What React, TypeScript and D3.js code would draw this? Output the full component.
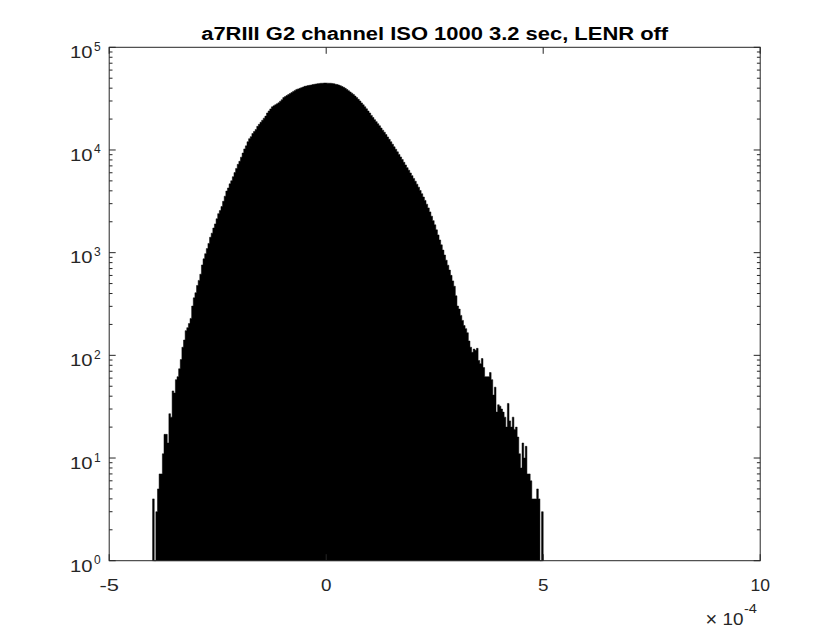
import React from "react";
import * as d3 from "d3";

// Histogram counts (bins of 0.0375e-4 starting at -4.0e-4)
const BIN_START = -4.0;
const BIN_WIDTH = 0.0375;
const counts = [
  4, 1, 3, 5, 7, 7, 11, 17, 17, 14,
  27, 25, 45, 43, 58, 62, 74, 91, 120, 141,
  174, 186, 204, 229, 302, 363, 407, 479, 537, 617,
  759, 871, 977, 1096, 1230, 1413, 1549, 1738, 1905, 2138,
  2399, 2570, 2818, 3162, 3548, 3981, 4266, 4677, 5012, 5495,
  6026, 6607, 7244, 7762, 8511, 9333, 10233, 10965, 12023, 12882,
  13490, 14454, 15136, 15849, 16982, 17783, 18621, 19498, 20417, 21380,
  22909, 23988, 25119, 26303, 26915, 27542, 28184, 28840, 29854, 30903,
  32359, 33113, 33884, 34674, 35481, 36308, 37154, 38019, 38905, 39355,
  39811, 40458, 41020, 41687, 41976, 42364, 42658, 42954, 43351, 43652,
  43954, 44259, 44463, 44668, 44668, 44875, 44875, 44770, 44668, 44668,
  44463, 44157, 43652, 43351, 42855, 42267, 41495, 40738, 39811, 38815,
  37757, 36728, 35727, 34674, 33497, 32359, 31117, 29992, 28708, 27542,
  26363, 25177, 23988, 22909, 21727, 20701, 19724, 18880, 18030, 17219,
  16368, 15596, 14894, 14125, 13397, 12706, 12023, 11376, 10740, 10162,
  9594, 9057, 8551, 8072, 7586, 7145, 6730, 6353, 5970, 5623,
  5284, 4966, 4645, 4345, 4036, 3750, 3483, 3228, 2965, 2729,
  2495, 2265, 2051, 1866, 1667, 1489, 1330, 1191, 1059, 948,
  845, 755, 676, 601, 531, 471, 380, 302, 282, 245,
  219, 195, 182, 166, 138, 120, 107, 115, 112, 117,
  89, 83, 93, 76, 62, 62, 62, 68, 58, 41,
  49, 28, 33, 32, 30, 28, 25, 20, 34, 23,
  20, 25, 19, 20, 16, 11, 8, 14, 10, 13,
  7, 7, 6, 4, 4, 4, 5, 4, 1, 3,
];

const xTicks = [-5, 0, 5, 10];
const yTickExps = [0, 1, 2, 3, 4, 5];
const minorMults = [2, 3, 4, 5, 6, 7, 8, 9];
const TITLE = "a7RIII G2 channel ISO 1000 3.2 sec, LENR off";

const W = 840;
const H = 630;
const L = 109.2;
const R = 760.2;
const T = 47.3;
const B = 560.7;
const AX = "#262626";
const FONT = "'Liberation Sans', Arial, Helvetica, sans-serif";

export default function App() {
  const x = d3.scaleLinear().domain([-5, 10]).range([L, R]);
  const y = d3.scaleLog().domain([1, 1e5]).range([B, T]);

  // single step-outline path for the histogram
  let histPath = `M${x(BIN_START)},${B}`;
  counts.forEach((c, i) => {
    const x0 = x(BIN_START + i * BIN_WIDTH);
    const x1 = x(BIN_START + (i + 1) * BIN_WIDTH);
    const yt = y(Math.max(c, 1));
    histPath += `L${x0},${yt}L${x1},${yt}`;
  });
  histPath += `L${x(BIN_START + counts.length * BIN_WIDTH)},${B}Z`;

  const minorVals: number[] = [];
  for (let e = 0; e < 5; e++) {
    for (const m of minorMults) minorVals.push(m * Math.pow(10, e));
  }

  let tickPath = "";
  yTickExps.forEach((e) => {
    const yy = y(Math.pow(10, e));
    tickPath += `M${L},${yy}H${L + 6.5}M${R},${yy}H${R - 6.5}`;
  });
  minorVals.forEach((v) => {
    const yy = y(v);
    tickPath += `M${L},${yy}H${L + 3.3}M${R},${yy}H${R - 3.3}`;
  });
  xTicks.forEach((t) => {
    const xx = x(t);
    tickPath += `M${xx},${B}V${B - 6.5}M${xx},${T}V${T + 6.5}`;
  });

  const xLabelWidth = (t: number) => {
    const s = String(t);
    if (s.length === 1) return 10.5;
    return 19.5;
  };

  return (
    <svg
      width={W}
      height={H}
      viewBox={`0 0 ${W} ${H}`}
      style={{ position: "absolute", left: 0, top: 0, background: "#fff" }}
      fontFamily={FONT}
    >
      <rect x={0} y={0} width={W} height={H} fill="#fff" />
      <path d={histPath} fill="#000" stroke="#000" strokeWidth={0.5} />
      <rect x={L} y={T} width={R - L} height={B - T} fill="none" stroke={AX} strokeWidth={1} />
      <path d={tickPath} stroke={AX} strokeWidth={1} fill="none" />
      {yTickExps.map((e) => {
        const yy = y(Math.pow(10, e));
        return (
          <g key={e} fill={AX}>
            <text
              x={70}
              y={yy + 10.8}
              fontSize={16.5}
              textLength={22.5}
              lengthAdjust="spacingAndGlyphs"
            >
              10
            </text>
            <text x={94} y={yy + 3.5} fontSize={12}>
              {e}
            </text>
          </g>
        );
      })}
      {xTicks.map((t) => (
        <text
          key={t}
          x={x(t) - xLabelWidth(t) / 2}
          y={590.5}
          fontSize={16.5}
          fill={AX}
          textLength={xLabelWidth(t)}
          lengthAdjust="spacingAndGlyphs"
        >
          {t}
        </text>
      ))}
      <g fill={AX}>
        <text x={705.5} y={626} fontSize={20}>
          ×
        </text>
        <text x={722.5} y={625} fontSize={16.5} textLength={21} lengthAdjust="spacingAndGlyphs">
          10
        </text>
        <text x={744} y={613} fontSize={12} textLength={13} lengthAdjust="spacingAndGlyphs">
          -4
        </text>
      </g>
      <text
        x={(L + R) / 2}
        y={40}
        fontSize={18}
        fontWeight="bold"
        textAnchor="middle"
        fill="#000"
        textLength={467}
        lengthAdjust="spacingAndGlyphs"
      >
        {TITLE}
      </text>
    </svg>
  );
}
